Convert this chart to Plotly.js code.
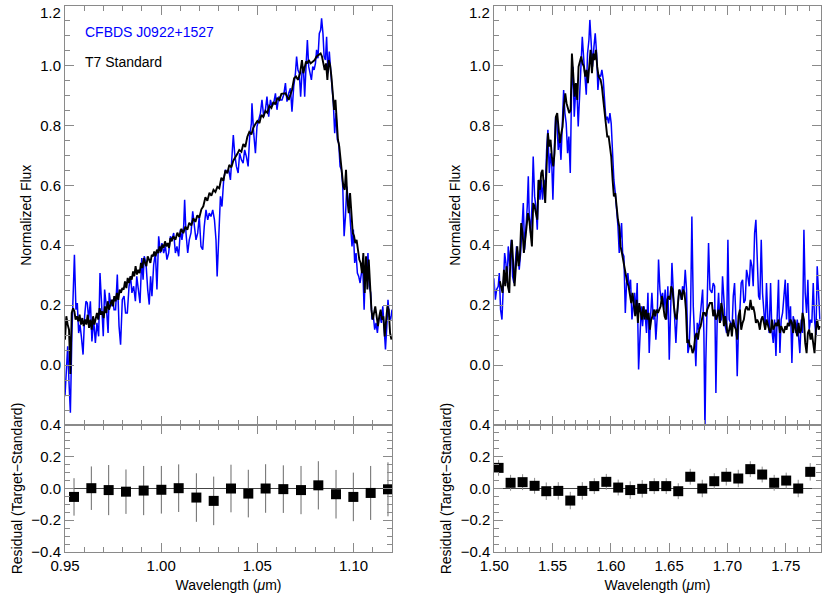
<!DOCTYPE html>
<html>
<head>
<meta charset="utf-8">
<script src="https://cdn.plot.ly/plotly-3.0.1.min.js"></script>
<style>
  body { margin: 0; background: #fff; }
  #plotArea { width: 830px; height: 598px; }
</style>
</head>
<body>
<div id="plotArea"></div>
<script>
// J band: target (blue) and T7 standard (black)
var leftBlueWave = [
  0.9500,0.9507,0.9514,0.9521,0.9528,0.9536,0.9549,0.9557,0.9564,0.9571,0.9578,0.9585,0.9594,0.9602,0.9609,0.9616,0.9623,0.9632,0.9640,0.9649,
  0.9658,0.9666,0.9675,0.9682,0.9691,0.9699,0.9706,0.9715,0.9724,0.9730,0.9739,0.9748,0.9755,0.9763,0.9772,0.9781,0.9789,0.9798,0.9807,0.9815,
  0.9824,0.9833,0.9841,0.9848,0.9857,0.9866,0.9873,0.9881,0.9890,0.9899,0.9906,0.9912,0.9921,0.9930,0.9938,0.9945,0.9952,0.9961,0.9970,0.9978,
  0.9987,0.9996,1.0004,1.0013,1.0022,1.0030,1.0039,1.0048,
  1.0056,1.0065,1.0074,1.0082,1.0091,1.0100,1.0108,1.0117,1.0122,1.0129,1.0138,1.0146,1.0155,1.0164,1.0172,1.0181,1.0190,1.0198,1.0207,1.0216,
  1.0224,1.0233,1.0242,1.0250,1.0259,1.0268,1.0277,1.0285,1.0291,1.0299,1.0308,1.0316,1.0325,1.0334,1.0342,1.0351,1.0360,1.0368,1.0375,1.0382,
  1.0391,1.0400,1.0408,1.0417,1.0426,1.0434,1.0443,1.0452,1.0460,1.0469,1.0472,1.0481,1.0490,1.0498,1.0507,1.0516,1.0524,1.0533,1.0542,1.0550,
  1.0559,1.0568,1.0576,1.0585,1.0594,1.0602,1.0611,1.0620,
  1.0628,1.0637,1.0646,1.0654,1.0663,1.0672,1.0680,1.0689,1.0698,1.0704,1.0711,1.0718,1.0725,1.0732,1.0739,1.0746,1.0753,1.0760,1.0767,1.0774,
  1.0781,1.0788,1.0795,1.0802,1.0808,1.0815,1.0822,1.0829,1.0834,1.0841,1.0847,1.0854,1.0860,1.0867,1.0874,1.0881,1.0888,1.0895,1.0902,1.0909,
  1.0916,1.0923,1.0930,1.0937,1.0944,1.0951,1.0958,1.0965,1.0972,1.0978,1.0985,1.0992,1.0999,1.1006,1.1013,1.1020,1.1027,1.1034,1.1041,1.1048,
  1.1055,1.1062,1.1068,1.1075,1.1082,1.1089,1.1096,1.1103,1.1110,1.1117,1.1124,1.1131,1.1138,1.1145,1.1152,1.1159,1.1166,1.1173,1.1179,1.1186,
  1.1193,1.1200
];
var leftBlueFlux = [
  -0.104,-0.004,0.063,-0.059,-0.159,0.107,0.368,0.185,0.207,0.107,0.135,0.096,0.035,0.163,0.213,0.207,0.152,0.213,0.079,0.152,
  0.074,0.141,0.096,0.307,0.185,0.096,0.252,0.196,0.107,0.241,0.196,0.218,0.185,0.185,0.302,0.130,0.068,0.218,0.230,0.174,
  0.174,0.263,0.296,0.241,0.263,0.213,0.296,0.252,0.207,0.357,0.285,0.363,0.341,0.252,0.202,0.296,0.230,0.335,0.374,0.252,
  0.430,0.374,0.407,0.374,0.396,0.352,0.374,0.430,
  0.418,0.441,0.374,0.396,0.363,0.452,0.418,0.463,0.552,0.441,0.374,0.418,0.441,0.513,0.463,0.418,0.441,0.496,0.396,0.385,
  0.463,0.518,0.485,0.507,0.496,0.518,0.485,0.418,0.296,0.441,0.563,0.529,0.618,0.652,0.641,0.652,0.618,0.696,0.768,0.707,
  0.663,0.641,0.707,0.685,0.674,0.718,0.696,0.663,0.763,0.807,0.874,0.774,0.707,0.796,0.818,0.841,0.885,0.829,0.852,0.896,
  0.829,0.885,0.863,0.874,0.907,0.852,0.896,0.885,
  0.885,0.902,0.941,0.879,0.907,0.924,0.846,0.929,0.974,1.030,0.985,0.974,0.896,0.974,0.996,0.896,0.996,1.085,0.996,0.974,
  0.952,0.996,0.985,1.007,1.052,1.024,1.107,1.118,1.157,1.107,1.030,1.018,1.096,0.974,1.046,0.985,0.929,0.874,0.774,0.841,
  0.752,0.741,0.663,0.652,0.596,0.430,0.496,0.596,0.552,0.529,0.463,0.396,0.452,0.341,0.374,0.307,0.296,0.274,0.307,0.330,
  0.185,0.330,0.285,0.374,0.263,0.241,0.152,0.163,0.118,0.141,0.107,0.152,0.163,0.141,0.196,0.118,0.052,0.130,0.218,0.163,
  0.152,0.185
];
var leftStdWave = [
  0.9500,0.9507,0.9514,0.9521,0.9528,0.9535,0.9542,0.9549,0.9555,0.9562,0.9569,0.9576,0.9583,0.9590,0.9597,0.9604,0.9611,0.9618,0.9625,0.9632,
  0.9639,0.9646,0.9653,0.9659,0.9666,0.9673,0.9680,0.9687,0.9694,0.9701,0.9708,0.9715,0.9722,0.9729,0.9736,0.9743,0.9750,0.9756,0.9763,0.9770,
  0.9777,0.9784,0.9791,0.9798,0.9805,0.9812,0.9819,0.9826,0.9833,0.9840,0.9847,0.9854,0.9860,0.9867,0.9874,0.9881,0.9888,0.9895,0.9902,0.9909,
  0.9916,0.9923,0.9930,0.9937,0.9944,0.9951,0.9958,0.9964,0.9971,0.9978,0.9985,0.9992,0.9999,1.0006,1.0013,1.0020,1.0027,1.0034,1.0041,1.0048,
  1.0055,
  1.0063,1.0074,1.0084,1.0094,1.0105,1.0115,1.0126,1.0136,1.0146,1.0157,1.0167,1.0178,1.0188,1.0198,1.0209,1.0219,1.0230,1.0240,1.0251,1.0261,
  1.0272,1.0282,1.0292,1.0302,1.0313,1.0323,1.0334,1.0344,1.0354,1.0365,1.0375,1.0386,1.0396,1.0406,1.0417,1.0427,1.0437,1.0448,1.0458,1.0469,
  1.0479,1.0490,1.0500,1.0511,1.0521,1.0531,1.0542,1.0552,1.0562,1.0573,1.0583,1.0594,1.0604,1.0614,1.0625,
  1.0646,1.0663,1.0680,1.0691,1.0701,1.0711,1.0722,1.0732,1.0739,1.0746,1.0753,1.0760,1.0767,1.0777,1.0788,1.0798,1.0808,1.0819,1.0829,1.0836,
  1.0843,1.0850,1.0857,1.0864,1.0871,1.0878,1.0885,1.0892,1.0899,1.0906,1.0912,1.0919,1.0926,1.0933,1.0940,1.0947,1.0954,1.0961,1.0968,1.0975,
  1.0982,1.0989,1.0996,1.1003,1.1009,1.1016,1.1023,1.1030,1.1037,1.1044,1.1051,1.1058,1.1065,1.1072,1.1079,1.1086,1.1093,1.1100,1.1107,1.1113,
  1.1120,1.1127,1.1134,1.1141,1.1148,1.1155,1.1162,1.1169,1.1176,1.1183,1.1190,1.1197
];
var leftStdFlux = [
  0.085,0.163,0.135,0.118,-0.030,0.174,0.190,0.179,0.152,0.163,0.146,0.168,0.135,0.157,0.130,0.152,0.135,0.168,0.124,0.152,
  0.118,0.163,0.135,0.157,0.174,0.152,0.190,0.168,0.179,0.157,0.196,0.174,0.213,0.185,0.202,0.218,0.196,0.230,0.213,0.241,
  0.218,0.252,0.241,0.257,0.252,0.279,0.257,0.291,0.274,0.296,0.285,0.313,0.296,0.330,0.302,0.318,0.307,0.341,0.324,0.357,
  0.341,0.330,0.363,0.352,0.341,0.368,0.363,0.379,0.363,0.385,0.374,0.396,0.379,0.402,0.391,0.413,0.396,0.407,0.391,0.424,
  0.413,
  0.430,0.418,0.442,0.428,0.455,0.440,0.462,0.452,0.475,0.466,0.490,0.478,0.500,0.492,0.520,0.530,0.560,0.548,0.575,0.565,
  0.585,0.578,0.595,0.590,0.625,0.615,0.650,0.640,0.668,0.660,0.682,0.692,0.705,0.718,0.712,0.738,0.728,0.762,0.778,0.770,
  0.792,0.805,0.815,0.808,0.835,0.828,0.848,0.842,0.865,0.858,0.878,0.870,0.892,0.885,0.905,
  0.907,0.885,0.918,0.957,0.963,0.952,0.974,1.018,0.974,0.996,1.013,1.007,1.018,1.007,1.013,1.018,1.030,1.035,1.040,1.030,
  1.007,0.985,1.007,0.952,1.018,1.002,0.963,0.918,0.852,0.885,0.818,0.752,0.729,0.685,0.663,0.596,0.585,0.652,0.552,0.507,
  0.574,0.485,0.441,0.430,0.407,0.418,0.374,0.352,0.341,0.307,0.374,0.241,0.363,0.252,0.352,0.241,0.185,0.152,0.185,0.196,
  0.163,0.130,0.163,0.185,0.152,0.163,0.096,0.152,0.196,0.185,0.107,0.085
];

// H band
var rightBlueWave = [
  1.4997,1.5009,1.5020,1.5034,1.5043,1.5054,1.5066,1.5077,1.5089,1.5100,1.5111,1.5120,1.5134,1.5146,1.5157,1.5169,1.5180,1.5191,1.5203,1.5214,
  1.5226,1.5237,1.5249,1.5260,1.5271,1.5283,1.5292,1.5300,1.5312,1.5323,1.5334,1.5346,1.5357,1.5369,1.5380,1.5392,1.5403,1.5414,1.5426,1.5437,
  1.5449,1.5460,1.5472,1.5483,1.5494,1.5503,1.5515,1.5526,1.5537,1.5549,1.5560,1.5572,1.5583,1.5595,1.5606,1.5617,1.5629,1.5640,1.5652,1.5663,
  1.5675,1.5686,1.5697,1.5709,1.5720,1.5732,1.5743,1.5755,1.5766,1.5777,1.5789,1.5800,1.5812,1.5820,1.5832,1.5843,1.5855,1.5866,1.5878,1.5889,
  1.5900,
  1.5912,1.5923,1.5935,1.5946,1.5958,1.5969,1.5981,1.5992,1.6003,1.6015,1.6026,1.6038,1.6049,1.6061,1.6072,1.6083,1.6092,1.6101,1.6112,1.6124,
  1.6135,1.6146,1.6158,1.6169,1.6181,1.6192,1.6204,1.6215,1.6226,1.6238,1.6249,1.6261,1.6272,1.6284,1.6295,1.6306,1.6318,1.6329,1.6341,1.6352,
  1.6364,1.6375,1.6386,1.6398,1.6409,1.6421,1.6432,1.6444,1.6455,1.6466,1.6478,1.6489,1.6501,1.6512,1.6524,1.6535,1.6546,1.6558,1.6569,1.6581,
  1.6592,1.6604,1.6615,1.6627,1.6638,1.6649,1.6661,1.6672,1.6684,1.6695,1.6707,1.6718,1.6729,1.6741,1.6752,1.6764,1.6775,1.6787,1.6798,1.6807,
  1.6815,1.6827,1.6838,1.6850,
  1.6867,1.6878,1.6890,1.6901,1.6912,1.6924,1.6935,1.6947,1.6958,1.6970,1.6981,1.6993,1.7004,1.7015,1.7027,1.7038,1.7050,1.7061,1.7073,1.7084,
  1.7095,1.7107,1.7118,1.7130,1.7141,1.7153,1.7164,1.7175,1.7187,1.7198,1.7210,1.7221,1.7233,1.7244,1.7255,1.7267,1.7278,1.7290,1.7301,1.7313,
  1.7324,1.7335,1.7347,1.7358,1.7370,1.7381,1.7393,1.7404,1.7416,1.7427,1.7438,1.7450,1.7461,1.7473,1.7484,1.7496,1.7507,1.7518,1.7530,1.7541,
  1.7553,1.7564,1.7576,1.7587,1.7599,1.7610,1.7621,1.7633,1.7644,1.7656,1.7667,1.7679,1.7690,1.7701,1.7713,1.7724,1.7736,1.7747,1.7759,1.7770,
  1.7782,1.7793
];
var rightBlueFlux = [
  0.290,0.218,0.252,0.263,0.307,0.185,0.152,0.240,0.374,0.340,0.274,0.396,0.330,0.418,0.296,0.274,0.330,0.396,0.374,0.318,
  0.374,0.463,0.541,0.385,0.441,0.529,0.630,0.496,0.441,0.529,0.696,0.563,0.529,0.452,0.618,0.552,0.618,0.552,0.618,0.574,
  0.718,0.785,0.641,0.707,0.663,0.552,0.718,0.829,0.807,0.718,0.763,0.685,0.796,0.918,0.841,0.807,0.707,0.763,0.641,0.918,
  0.996,0.829,0.907,0.918,0.796,0.918,0.996,1.096,1.030,0.963,0.902,1.040,1.085,1.152,1.052,0.996,1.063,1.107,1.040,0.918,
  0.968,
  0.963,0.985,0.952,0.885,0.818,0.829,0.807,0.841,0.807,0.707,0.618,0.574,0.529,0.463,0.374,0.441,0.474,0.374,0.363,0.174,
  0.274,0.307,0.252,0.285,0.152,0.196,0.241,0.174,0.274,-0.015,0.107,0.196,0.130,0.196,0.163,0.107,0.241,0.040,0.163,0.241,
  0.152,0.185,0.085,0.163,0.352,0.252,0.218,0.241,0.185,0.252,0.152,0.263,0.018,0.218,0.341,0.252,0.163,0.074,0.163,0.230,
  0.252,0.218,0.263,0.241,0.318,0.252,0.040,0.063,0.185,0.496,0.196,0.107,-0.004,0.141,0.118,0.152,0.218,0.252,0.107,-0.215,
  0.018,0.263,0.407,0.252,
  0.241,0.274,0.263,-0.093,0.152,0.241,0.141,0.152,0.296,0.218,0.130,0.107,0.418,0.152,0.141,0.107,0.230,0.274,0.152,-0.037,
  0.130,0.185,0.274,0.285,0.207,0.218,0.318,0.296,0.263,0.352,0.330,0.263,0.441,0.485,0.352,0.230,0.218,0.418,0.241,0.152,
  0.118,0.274,0.152,0.107,0.274,0.118,0.074,0.152,0.030,0.163,0.285,0.040,0.152,0.174,0.218,0.285,0.152,0.274,0.130,0.196,
  0.007,0.163,0.141,0.107,0.152,0.096,0.040,0.152,0.107,0.452,0.241,0.174,0.285,0.118,0.152,0.141,0.274,0.152,0.096,0.330,
  0.241,0.152
];
var rightStdWave = [
  1.5048,1.5060,1.5071,1.5083,1.5094,1.5106,1.5117,1.5129,1.5140,1.5151,1.5163,1.5174,1.5186,1.5197,1.5209,1.5220,1.5231,1.5243,1.5254,1.5266,
  1.5277,1.5289,1.5300,1.5311,1.5323,1.5334,1.5346,1.5357,1.5369,1.5380,1.5392,1.5403,1.5414,1.5426,1.5437,1.5449,1.5460,1.5472,1.5483,1.5494,
  1.5506,1.5517,1.5529,1.5540,1.5552,1.5563,1.5575,1.5586,1.5597,1.5609,1.5620,1.5632,1.5643,1.5655,1.5666,1.5677,1.5689,1.5700,1.5712,1.5723,
  1.5735,1.5746,1.5757,1.5769,1.5780,1.5792,1.5803,1.5815,1.5826,1.5838,1.5849,1.5860,1.5872,1.5883,1.5895,
  1.5912,1.5923,1.5935,1.5946,1.5958,1.5969,1.5981,1.5992,1.6003,1.6015,1.6026,1.6038,1.6049,1.6061,1.6072,1.6083,1.6095,1.6106,1.6118,1.6129,
  1.6141,1.6152,1.6163,1.6175,1.6186,1.6198,1.6209,1.6221,1.6232,1.6243,1.6255,1.6266,1.6278,1.6289,1.6301,1.6312,1.6324,1.6335,1.6346,1.6358,
  1.6369,1.6381,1.6392,1.6404,1.6415,1.6427,1.6438,1.6449,1.6461,1.6472,1.6484,1.6495,1.6507,1.6518,1.6529,1.6541,1.6552,1.6564,1.6575,1.6586,
  1.6598,1.6609,1.6621,1.6632,1.6644,1.6655,1.6666,1.6678,1.6689,1.6701,1.6712,1.6724,1.6735,1.6747,1.6758,1.6770,1.6781,1.6792,1.6804,1.6815,
  1.6827,1.6838,1.6850,
  1.6867,1.6878,1.6890,1.6901,1.6912,1.6924,1.6935,1.6947,1.6958,1.6970,1.6981,1.6993,1.7004,1.7015,1.7027,1.7038,1.7050,1.7061,1.7073,1.7084,
  1.7095,1.7107,1.7118,1.7130,1.7141,1.7153,1.7164,1.7175,1.7187,1.7198,1.7210,1.7221,1.7233,1.7244,1.7255,1.7267,1.7278,1.7290,1.7301,1.7313,
  1.7324,1.7335,1.7347,1.7358,1.7370,1.7381,1.7393,1.7404,1.7416,1.7427,1.7438,1.7450,1.7461,1.7473,1.7484,1.7496,1.7507,1.7518,1.7530,1.7541,
  1.7553,1.7564,1.7576,1.7587,1.7599,1.7610,1.7621,1.7633,1.7644,1.7656,1.7667,1.7679,1.7690,1.7701,1.7713,1.7724,1.7736,1.7747,1.7759,1.7770,
  1.7782,1.7793
];
var rightStdFlux = [
  0.280,0.263,0.241,0.318,0.263,0.330,0.263,0.241,0.374,0.418,0.330,0.263,0.330,0.396,0.330,0.363,0.474,0.441,0.374,0.418,
  0.463,0.507,0.485,0.441,0.396,0.541,0.529,0.507,0.485,0.618,0.585,0.641,0.652,0.596,0.541,0.663,0.774,0.729,0.752,0.696,
  0.663,0.707,0.829,0.841,0.785,0.741,0.774,0.796,0.863,0.907,0.874,0.852,0.841,0.852,1.040,0.974,0.896,0.941,0.885,0.996,
  1.018,1.030,1.007,0.996,0.963,0.985,0.941,1.007,1.052,0.974,1.040,1.018,1.052,0.996,0.963,
  0.952,0.930,0.885,0.841,0.796,0.763,0.763,0.729,0.696,0.618,0.563,0.574,0.529,0.485,0.463,0.396,0.374,0.352,0.330,0.296,
  0.274,0.263,0.241,0.207,0.241,0.196,0.163,0.218,0.141,0.207,0.174,0.152,0.196,0.152,0.185,0.152,0.174,0.118,0.152,0.163,
  0.185,0.163,0.185,0.174,0.185,0.196,0.230,0.196,0.163,0.152,0.218,0.230,0.218,0.263,0.252,0.196,0.163,0.152,0.207,0.252,
  0.241,0.218,0.252,0.241,0.185,0.074,0.085,0.063,0.063,0.040,0.052,0.096,0.107,0.085,0.118,0.130,0.152,0.174,0.174,0.163,
  0.185,0.196,0.207,
  0.207,0.163,0.185,0.152,0.163,0.185,0.141,0.207,0.185,0.130,0.163,0.118,0.096,0.118,0.141,0.096,0.152,0.130,0.118,0.085,
  0.163,0.185,0.118,0.141,0.152,0.185,0.196,0.185,0.185,0.218,0.185,0.196,0.174,0.141,0.152,0.141,0.118,0.152,0.163,0.141,
  0.118,0.152,0.130,0.118,0.107,0.152,0.118,0.130,0.141,0.130,0.152,0.107,0.130,0.118,0.107,0.130,0.118,0.141,0.130,0.152,
  0.141,0.107,0.152,0.118,0.096,0.141,0.107,0.118,0.174,0.152,0.074,0.040,0.107,0.118,0.085,0.107,0.063,0.040,0.118,0.152,
  0.118,0.130
];

// residuals (target - standard)
var leftResWave = [0.9547,0.9637,0.9727,0.9817,0.9909,1.0001,1.0091,1.0183,1.0273,1.0363,1.0453,1.0543,1.0635,1.0727,1.0817,1.0909,1.0999,1.1089,1.1179];
var leftResVal  = [-0.053,0.002,-0.010,-0.020,-0.013,-0.008,0.002,-0.057,-0.078,0.000,-0.032,0.000,-0.004,-0.010,0.020,-0.036,-0.053,-0.028,-0.005];
var leftResErr  = [0.118,0.137,0.158,0.140,0.155,0.150,0.150,0.153,0.153,0.150,0.150,0.153,0.150,0.152,0.152,0.153,0.153,0.170,0.170];

var rightResWave = [1.5037,1.5140,1.5243,1.5346,1.5446,1.5549,1.5652,1.5755,1.5858,1.5961,1.6063,1.6166,1.6269,1.6372,1.6475,1.6578,1.6681,1.6784,1.6887,1.6990,1.7093,1.7196,1.7298,1.7401,1.7504,1.7607,1.7710];
var rightResVal  = [0.130,0.036,0.040,0.017,-0.017,-0.015,-0.076,-0.015,0.015,0.042,0.006,-0.010,-0.002,0.015,0.015,-0.017,0.074,0.000,0.046,0.074,0.063,0.122,0.088,0.036,0.050,0.000,0.105];
var rightResErr  = [0.050,0.050,0.050,0.050,0.055,0.055,0.055,0.055,0.050,0.050,0.050,0.055,0.055,0.050,0.050,0.050,0.050,0.055,0.050,0.055,0.055,0.050,0.050,0.050,0.050,0.055,0.055];

// flux axis labels; the top one (1.2) sits a little lower, as in the original
var fluxTicks = [0, 0.2, 0.4, 0.6, 0.8, 1.0, 1.2];
var fluxLabels = ['0.0', '0.2', '0.4', '0.6', '0.8', '1.0', ''];
var topFluxLabel = '1.2';

var fontFam = '"Liberation Sans", Arial, sans-serif';
var frameGray = '#8a8a8a';

function spec(x, y, color, width, xa, ya) {
  return {x: x, y: y, type: 'scatter', mode: 'lines', xaxis: xa, yaxis: ya,
    line: {color: color, width: width}, hoverinfo: 'skip'};
}

function resid(x, y, err, xa, ya, barColor) {
  return {x: x, y: y, type: 'scatter', mode: 'markers', xaxis: xa, yaxis: ya,
    marker: {symbol: 'square', size: 10, color: '#000'},
    error_y: {type: 'data', array: err, visible: true, color: barColor, thickness: 1, width: 0},
    cliponaxis: false, hoverinfo: 'skip'};
}

var trace = [
  spec(leftBlueWave, leftBlueFlux, '#0000ff', 1.5, 'x', 'y'),
  spec(leftStdWave, leftStdFlux, '#000000', 1.9, 'x', 'y'),
  spec(rightBlueWave, rightBlueFlux, '#0000ff', 1.5, 'x3', 'y3'),
  spec(rightStdWave, rightStdFlux, '#000000', 1.9, 'x3', 'y3'),
  resid(leftResWave, leftResVal, leftResErr, 'x2', 'y2', '#6a6a6a'),
  resid(rightResWave, rightResVal, rightResErr, 'x4', 'y4', '#8c8c8c')
];

// common IDL-like frame: inside ticks on all four sides
function frame(extra) {
  var ax = {
    showline: true, linecolor: frameGray, linewidth: 1, mirror: 'ticks',
    ticks: 'inside', ticklen: 9, tickcolor: frameGray, tickwidth: 1,
    showgrid: false, zeroline: false, automargin: false,
    tickfont: {family: fontFam, size: 15, color: '#000'},
    title: {font: {family: fontFam, size: 14, color: '#000'}}
  };
  for (var k in extra) ax[k] = extra[k];
  return ax;
}

var leftDom = [0.0783, 0.4723];
var rightDom = [0.5955, 0.9888];
var topDom = [0.2893, 0.9908];
var botDom = [0.0769, 0.2893];
var xTitle = {text: 'Wavelength (<i>\u03bc</i>m)', font: {family: fontFam, size: 14, color: '#000'}, standoff: 7};
var tickFont = {family: fontFam, size: 15, color: '#000'};

var layout = {
  width: 830, height: 598,
  margin: {l: 0, r: 0, t: 0, b: 0},
  paper_bgcolor: '#fff', plot_bgcolor: '#fff',
  showlegend: false,
  xaxis: frame({domain: leftDom, anchor: 'y', range: [0.95, 1.12], dtick: 0.05, tick0: 0.95,
    showticklabels: false, minor: {dtick: 0.01, ticks: 'inside', ticklen: 5, tickcolor: frameGray}}),
  yaxis: frame({domain: topDom, anchor: 'x', range: [-0.2, 1.2001], tickvals: fluxTicks, ticktext: fluxLabels,
    minor: {dtick: 0.05, tick0: 0, ticks: 'inside', ticklen: 5, tickcolor: frameGray},
    title: {text: 'Normalized Flux', font: {family: fontFam, size: 14, color: '#000'}, standoff: 5}}),
  xaxis2: frame({domain: leftDom, anchor: 'y2', range: [0.95, 1.12], dtick: 0.05, tick0: 0.95, tickformat: '.2f',
    minor: {dtick: 0.01, ticks: 'inside', ticklen: 5, tickcolor: frameGray}, title: xTitle}),
  yaxis2: frame({domain: botDom, anchor: 'x2', range: [-0.4001, 0.4001], dtick: 0.2, tick0: 0, tickformat: '.1f',
    zeroline: true, zerolinecolor: '#444', zerolinewidth: 1,
    minor: {dtick: 0.05, tick0: 0, ticks: 'inside', ticklen: 5, tickcolor: frameGray},
    title: {text: 'Residual (Target\u2212Standard)', font: {family: fontFam, size: 14, color: '#000'}, standoff: 5}}),
  xaxis3: frame({domain: rightDom, anchor: 'y3', range: [1.50, 1.78], dtick: 0.05, tick0: 1.50,
    showticklabels: false, minor: {dtick: 0.01, ticks: 'inside', ticklen: 5, tickcolor: frameGray}}),
  yaxis3: frame({domain: topDom, anchor: 'x3', range: [-0.2, 1.2001], tickvals: fluxTicks, ticktext: fluxLabels,
    minor: {dtick: 0.05, tick0: 0, ticks: 'inside', ticklen: 5, tickcolor: frameGray},
    title: {text: 'Normalized Flux', font: {family: fontFam, size: 14, color: '#000'}, standoff: 5}}),
  xaxis4: frame({domain: rightDom, anchor: 'y4', range: [1.50, 1.78], dtick: 0.05, tick0: 1.50, tickformat: '.2f',
    minor: {dtick: 0.01, ticks: 'inside', ticklen: 5, tickcolor: frameGray}, title: xTitle}),
  yaxis4: frame({domain: botDom, anchor: 'x4', range: [-0.4001, 0.4001], dtick: 0.2, tick0: 0, tickformat: '.1f',
    zeroline: true, zerolinecolor: '#444', zerolinewidth: 1,
    minor: {dtick: 0.05, tick0: 0, ticks: 'inside', ticklen: 5, tickcolor: frameGray},
    title: {text: 'Residual (Target\u2212Standard)', font: {family: fontFam, size: 14, color: '#000'}, standoff: 5}}),
  annotations: [
    {text: 'CFBDS J0922+1527', xref: 'paper', yref: 'paper', x: 0.1, y: 0.9465,
      xanchor: 'left', yanchor: 'middle', showarrow: false,
      font: {family: fontFam, size: 14, color: '#0000ff'}},
    {text: 'T7 Standard', xref: 'paper', yref: 'paper', x: 0.1, y: 0.8963,
      xanchor: 'left', yanchor: 'middle', showarrow: false,
      font: {family: fontFam, size: 14, color: '#000'}},
    {text: topFluxLabel, xref: 'paper', yref: 'paper', x: 0.0747, y: 0.9791,
      xanchor: 'right', yanchor: 'middle', showarrow: false, borderpad: 0, font: tickFont},
    {text: topFluxLabel, xref: 'paper', yref: 'paper', x: 0.5915, y: 0.9791,
      xanchor: 'right', yanchor: 'middle', showarrow: false, borderpad: 0, font: tickFont}
  ]
};

Plotly.newPlot('plotArea', trace, layout, {displayModeBar: false, staticPlot: true});
</script>
</body>
</html>
